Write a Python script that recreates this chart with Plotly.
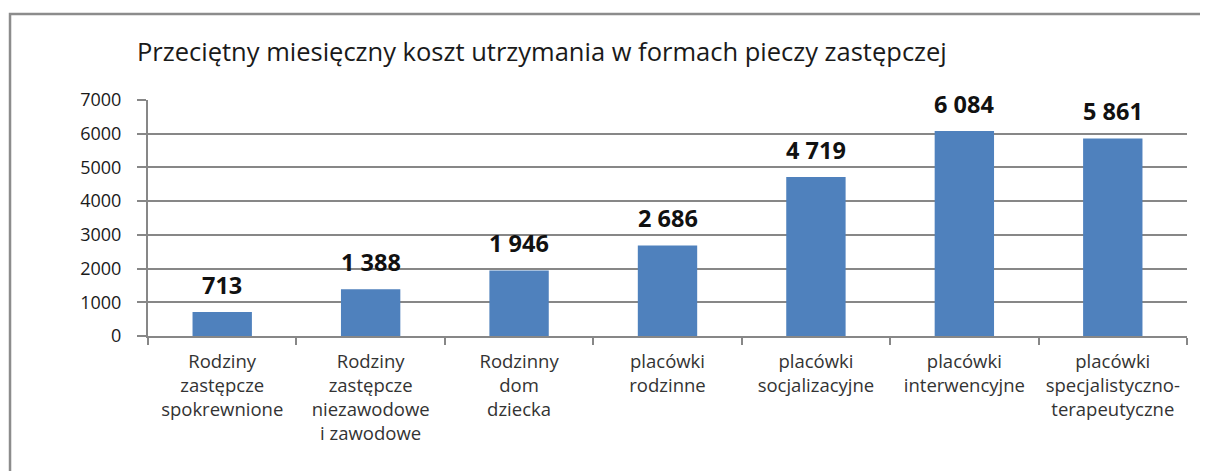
import plotly.graph_objects as go

categories = [
    "Rodziny<br>zastępcze<br>spokrewnione",
    "Rodziny<br>zastępcze<br>niezawodowe<br>i zawodowe",
    "Rodzinny<br>dom<br>dziecka",
    "placówki<br>rodzinne",
    "placówki<br>socjalizacyjne",
    "placówki<br>interwencyjne",
    "placówki<br>specjalistyczno-<br>terapeutyczne",
]
values = [713, 1388, 1946, 2686, 4719, 6084, 5861]
y_ticks = [0, 1000, 2000, 3000, 4000, 5000, 6000, 7000]
title_text = "Przeciętny miesięczny koszt utrzymania w formach pieczy zastępczej"

def fmt(v):
    return f"{v:,}".replace(",", " ")

FONT = "'Open Sans', Lato, sans-serif"
GRID = "#878787"

fig = go.Figure()
fig.add_trace(go.Bar(
    x=categories, y=values,
    marker=dict(color="#4F81BD", line=dict(width=0)),
    width=0.4,
    hoverinfo="skip",
))

for c, v in zip(categories, values):
    fig.add_annotation(x=c, y=v, text=f"<b>{fmt(v)}</b>", showarrow=False,
                       yanchor="bottom", yshift=9,
                       font=dict(family=FONT, size=23.5, color="#111111"))

# outer frame
fig.add_shape(type="rect", xref="paper", yref="paper",
              x0=-0.1328, x1=1.2, y0=-1.0, y1=1.364,
              line=dict(color="#8c8c8c", width=2.5), fillcolor="rgba(0,0,0,0)", layer="below")

W, H = 1200, 463
fig.update_layout(
    width=W, height=H,
    margin=dict(l=140, r=21, t=92, b=135),
    paper_bgcolor="white", plot_bgcolor="white",
    showlegend=False,
    title=dict(text=title_text, x=129/W, xanchor="left", xref="container",
               y=1 - 44/H, yanchor="middle", yref="container",
               font=dict(family=FONT, size=25.5, color="#1a1a1a")),
    xaxis=dict(
        type="category",
        showline=True, linecolor=GRID, linewidth=2,
        ticks="outside", ticklen=7, tickcolor=GRID, tickwidth=2,
        tickson="boundaries",
        ticklabelstandoff=8,
        showgrid=False,
        tickfont=dict(family=FONT, size=18.5, color="#333333"),
    ),
    yaxis=dict(
        range=[0, 7000], tickvals=y_ticks, tickformat="d",
        showline=True, linecolor=GRID, linewidth=2,
        ticks="outside", ticklen=9, tickcolor=GRID, tickwidth=2,
        ticklabelstandoff=12,
        showgrid=True, gridcolor=GRID, gridwidth=2,
        zeroline=False,
        tickfont=dict(family=FONT, size=18, color="#1a1a1a"),
    ),
)

fig.write_html("out.html")
